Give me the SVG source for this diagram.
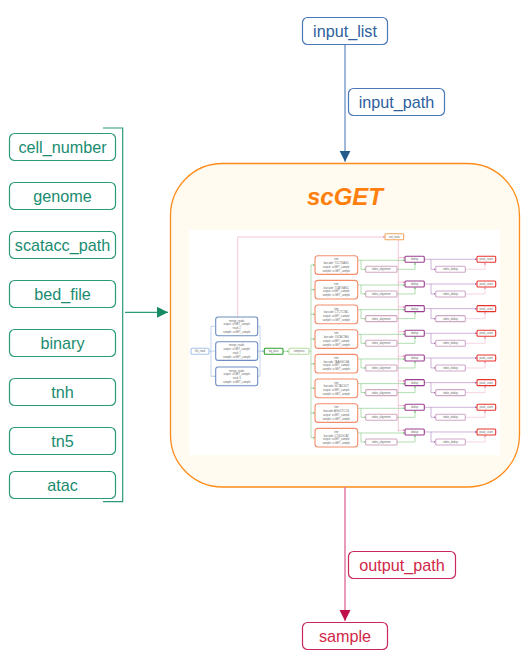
<svg xmlns="http://www.w3.org/2000/svg" width="529" height="657" viewBox="0 0 529 657">
<style>
.lbl{font-family:"Liberation Sans",Arial,sans-serif;font-size:16.2px;text-anchor:middle}
.g .box{fill:#fff;stroke:#2a9a7a;stroke-width:1.2}
.g text{fill:#1a8c70}
.b .box{fill:#fff;stroke:#4a78b8;stroke-width:1.2}
.b text{fill:#2e5f9e}
.r .box{fill:#fff;stroke:#c8285a;stroke-width:1.2}
.r text{fill:#d02848}
.t{font-family:"Liberation Sans",Arial,sans-serif;font-size:2.6px;text-anchor:middle;fill:#666}
.n{fill:#fff;stroke-width:1.1}
.c{fill:none;stroke-width:0.6}
</style>
<defs>
<marker id="ab" viewBox="0 0 10 10" refX="10" refY="5" markerWidth="11" markerHeight="16" markerUnits="userSpaceOnUse" orient="auto"><path d="M0,0L10,5L0,10z" fill="#235a8c"/></marker>
<marker id="ag" viewBox="0 0 10 10" refX="10" refY="5" markerWidth="17" markerHeight="11" markerUnits="userSpaceOnUse" orient="auto"><path d="M0,0L10,5L0,10z" fill="#178a66"/></marker>
<marker id="ar" viewBox="0 0 10 10" refX="10" refY="5" markerWidth="11" markerHeight="16" markerUnits="userSpaceOnUse" orient="auto"><path d="M0,0L10,5L0,10z" fill="#c0104a"/></marker>
<marker id="sg" viewBox="0 0 10 10" refX="10" refY="5" markerWidth="2.2" markerHeight="2.2" markerUnits="userSpaceOnUse" orient="auto"><path d="M0,0L10,5L0,10z" fill="#7cc87c"/></marker>
<marker id="sp" viewBox="0 0 10 10" refX="10" refY="5" markerWidth="2.2" markerHeight="2.2" markerUnits="userSpaceOnUse" orient="auto"><path d="M0,0L10,5L0,10z" fill="#e890b8"/></marker>
<marker id="su" viewBox="0 0 10 10" refX="10" refY="5" markerWidth="2.2" markerHeight="2.2" markerUnits="userSpaceOnUse" orient="auto"><path d="M0,0L10,5L0,10z" fill="#a060b0"/></marker>
<marker id="sb" viewBox="0 0 10 10" refX="10" refY="5" markerWidth="2.2" markerHeight="2.2" markerUnits="userSpaceOnUse" orient="auto"><path d="M0,0L10,5L0,10z" fill="#9ab8e0"/></marker>
</defs>

<g id="scGET">
<rect x="170.5" y="163.5" width="349" height="323.5" rx="52" fill="#fffbf0" stroke="#ff8c1a" stroke-width="1.3"/>
<text x="345" y="205" font-family="Liberation Sans,Arial,sans-serif" font-size="24" font-weight="bold" font-style="italic" fill="#ff7f0e" text-anchor="middle">scGET</text>
<rect x="189" y="230" width="311" height="225" fill="#fff"/>

<g id="inner-connectors">
<path class="c" stroke="#9ab8e0" d="M209,351.3H211M211,326.3V376.3" />
<path class="c" stroke="#9ab8e0" marker-end="url(#sb)" d="M211,326.3H215.7M211,351H215.7M211,376.3H215.7"/>
<path class="c" stroke="#9ab8e0" d="M257.7,326.3H260M257.7,351H260M257.7,376.3H260M260,326.3V376.3"/>
<path class="c" stroke="#9ab8e0" marker-end="url(#sb)" d="M260,351.3H264.3"/>
<path class="c" stroke="#7cc87c" marker-end="url(#sg)" d="M283,351.3H289"/>
<path class="c" stroke="#f0a0c0" marker-end="url(#sp)" d="M237.7,317V237H385"/>
<path class="c" stroke="#7cc87c" d="M309,351.3H311M311,265V437.7"/>
<path class="c" stroke="#f0a0c0" d="M398.3,239.7V432"/>
</g>

<g id="file_read"><rect class="n" x="191" y="348.3" width="18" height="6" rx="1" stroke="#a9c4eb"/><text class="t" x="200" y="352.3">file_read</text></g>
<g id="merge_reads_1"><rect class="n" x="215.7" y="317" width="42" height="18.7" rx="2.5" stroke="#6c8ebf"/><text class="t" x="236.7" y="321.5">merge_reads</text><text class="t" x="236.7" y="325.3">output: scGET_sample</text><text class="t" x="236.7" y="329.1">read: 2</text><text class="t" x="236.7" y="332.9">sample: scGET_sample</text></g>
<g id="merge_reads_2"><rect class="n" x="215.7" y="341.7" width="42" height="18.7" rx="2.5" stroke="#6c8ebf"/><text class="t" x="236.7" y="346.2">merge_reads</text><text class="t" x="236.7" y="350">output: scGET_sample</text><text class="t" x="236.7" y="353.8">read: 1</text><text class="t" x="236.7" y="357.6">sample: scGET_sample</text></g>
<g id="merge_reads_3"><rect class="n" x="215.7" y="367" width="42" height="18.7" rx="2.5" stroke="#6c8ebf"/><text class="t" x="236.7" y="371.5">merge_reads</text><text class="t" x="236.7" y="375.3">output: scGET_sample</text><text class="t" x="236.7" y="379.1">read: 3</text><text class="t" x="236.7" y="382.9">sample: scGET_sample</text></g>
<g id="log_dust"><rect class="n" x="264.3" y="348.3" width="18.7" height="6" rx="1" stroke="#2ca02c"/><text class="t" x="273.6" y="352.3">log_dust</text></g>
<g id="compress"><rect class="n" x="289" y="348.3" width="20" height="6" rx="1" stroke="#b5dca0"/><text class="t" x="299" y="352.3">compress</text></g>
<g id="unit_tools"><rect class="n" x="385" y="233.7" width="18.7" height="6" rx="1" stroke="#f4a460"/><text class="t" x="394.3" y="237.7">unit_tools</text></g>

<g id="row1" transform="translate(0,0)">
<path class="c" stroke="#7cc87c" marker-end="url(#sg)" d="M311,265H315"/>
<path class="c" stroke="#7cc87c" marker-end="url(#sg)" d="M357.7,260.3H405"/>
<path class="c" stroke="#7cc87c" marker-end="url(#sg)" d="M361,260.3V269.3H365.7"/>
<path class="c" stroke="#7cc87c" marker-end="url(#sg)" d="M397,269.3H415V262.3"/>
<path class="c" stroke="#f0a0c0" marker-end="url(#sp)" d="M398.3,257.6H405"/>
<path class="c" stroke="#b080c0" marker-end="url(#su)" d="M424.3,259.3H431V269.3H435.7"/>
<path class="c" stroke="#b080c0" marker-end="url(#su)" d="M431,259.3H477"/>
<path class="c" stroke="#f0b8d0" marker-end="url(#sp)" d="M465.3,269.3H485V262.3"/>
<rect class="n" x="315" y="255.7" width="42.7" height="18.7" rx="3" stroke="#f48c6c"/>
<text class="t" x="336.3" y="260.2">trim</text><text class="t" x="336.3" y="264">barcode: TCCTGAGC</text><text class="t" x="336.3" y="267.8">output: scGET_sample</text><text class="t" x="336.3" y="271.6">sample: scGET_sample</text>
<rect class="n" x="365.7" y="266.3" width="31.3" height="6" rx="1" stroke="#cfa8c0"/><text class="t" x="381.3" y="270.3">index_alignment</text>
<rect class="n" x="405" y="256.3" width="19.3" height="6" rx="1" stroke="#9b3d8f"/><text class="t" x="414.6" y="260.3">dedup</text>
<rect class="n" x="435.7" y="266.3" width="29.6" height="6" rx="1" stroke="#cfa8c8"/><text class="t" x="450.5" y="270.3">index_dedup</text>
<rect class="n" x="477" y="256.3" width="18.7" height="6" rx="1" stroke="#e8332a"/><text class="t" x="486.3" y="260.3">peak_count</text>
</g>
<g id="row2" transform="translate(0,24.67)">
<path class="c" stroke="#7cc87c" marker-end="url(#sg)" d="M311,265H315"/>
<path class="c" stroke="#7cc87c" marker-end="url(#sg)" d="M357.7,260.3H405"/>
<path class="c" stroke="#7cc87c" marker-end="url(#sg)" d="M361,260.3V269.3H365.7"/>
<path class="c" stroke="#7cc87c" marker-end="url(#sg)" d="M397,269.3H415V262.3"/>
<path class="c" stroke="#f0a0c0" marker-end="url(#sp)" d="M398.3,257.6H405"/>
<path class="c" stroke="#b080c0" marker-end="url(#su)" d="M424.3,259.3H431V269.3H435.7"/>
<path class="c" stroke="#b080c0" marker-end="url(#su)" d="M431,259.3H477"/>
<path class="c" stroke="#f0b8d0" marker-end="url(#sp)" d="M465.3,269.3H485V262.3"/>
<rect class="n" x="315" y="255.7" width="42.7" height="18.7" rx="3" stroke="#f48c6c"/>
<text class="t" x="336.3" y="260.2">trim</text><text class="t" x="336.3" y="264">barcode: TCATGAGC</text><text class="t" x="336.3" y="267.8">output: scGET_sample</text><text class="t" x="336.3" y="271.6">sample: scGET_sample</text>
<rect class="n" x="365.7" y="266.3" width="31.3" height="6" rx="1" stroke="#cfa8c0"/><text class="t" x="381.3" y="270.3">index_alignment</text>
<rect class="n" x="405" y="256.3" width="19.3" height="6" rx="1" stroke="#9b3d8f"/><text class="t" x="414.6" y="260.3">dedup</text>
<rect class="n" x="435.7" y="266.3" width="29.6" height="6" rx="1" stroke="#cfa8c8"/><text class="t" x="450.5" y="270.3">index_dedup</text>
<rect class="n" x="477" y="256.3" width="18.7" height="6" rx="1" stroke="#e8332a"/><text class="t" x="486.3" y="260.3">peak_count</text>
</g>
<g id="row3" transform="translate(0,49.33)">
<path class="c" stroke="#7cc87c" marker-end="url(#sg)" d="M311,265H315"/>
<path class="c" stroke="#7cc87c" marker-end="url(#sg)" d="M357.7,260.3H405"/>
<path class="c" stroke="#7cc87c" marker-end="url(#sg)" d="M361,260.3V269.3H365.7"/>
<path class="c" stroke="#7cc87c" marker-end="url(#sg)" d="M397,269.3H415V262.3"/>
<path class="c" stroke="#f0a0c0" marker-end="url(#sp)" d="M398.3,257.6H405"/>
<path class="c" stroke="#b080c0" marker-end="url(#su)" d="M424.3,259.3H431V269.3H435.7"/>
<path class="c" stroke="#b080c0" marker-end="url(#su)" d="M431,259.3H477"/>
<path class="c" stroke="#f0b8d0" marker-end="url(#sp)" d="M465.3,269.3H485V262.3"/>
<rect class="n" x="315" y="255.7" width="42.7" height="18.7" rx="3" stroke="#f48c6c"/>
<text class="t" x="336.3" y="260.2">trim</text><text class="t" x="336.3" y="264">barcode: CTCTCTAC</text><text class="t" x="336.3" y="267.8">output: scGET_sample</text><text class="t" x="336.3" y="271.6">sample: scGET_sample</text>
<rect class="n" x="365.7" y="266.3" width="31.3" height="6" rx="1" stroke="#cfa8c0"/><text class="t" x="381.3" y="270.3">index_alignment</text>
<rect class="n" x="405" y="256.3" width="19.3" height="6" rx="1" stroke="#9b3d8f"/><text class="t" x="414.6" y="260.3">dedup</text>
<rect class="n" x="435.7" y="266.3" width="29.6" height="6" rx="1" stroke="#cfa8c8"/><text class="t" x="450.5" y="270.3">index_dedup</text>
<rect class="n" x="477" y="256.3" width="18.7" height="6" rx="1" stroke="#e8332a"/><text class="t" x="486.3" y="260.3">peak_count</text>
</g>
<g id="row4" transform="translate(0,74)">
<path class="c" stroke="#7cc87c" marker-end="url(#sg)" d="M311,265H315"/>
<path class="c" stroke="#7cc87c" marker-end="url(#sg)" d="M357.7,260.3H405"/>
<path class="c" stroke="#7cc87c" marker-end="url(#sg)" d="M361,260.3V269.3H365.7"/>
<path class="c" stroke="#7cc87c" marker-end="url(#sg)" d="M397,269.3H415V262.3"/>
<path class="c" stroke="#f0a0c0" marker-end="url(#sp)" d="M398.3,257.6H405"/>
<path class="c" stroke="#b080c0" marker-end="url(#su)" d="M424.3,259.3H431V269.3H435.7"/>
<path class="c" stroke="#b080c0" marker-end="url(#su)" d="M431,259.3H477"/>
<path class="c" stroke="#f0b8d0" marker-end="url(#sp)" d="M465.3,269.3H485V262.3"/>
<rect class="n" x="315" y="255.7" width="42.7" height="18.7" rx="3" stroke="#f48c6c"/>
<text class="t" x="336.3" y="260.2">trim</text><text class="t" x="336.3" y="264">barcode: CGTACTAG</text><text class="t" x="336.3" y="267.8">output: scGET_sample</text><text class="t" x="336.3" y="271.6">sample: scGET_sample</text>
<rect class="n" x="365.7" y="266.3" width="31.3" height="6" rx="1" stroke="#cfa8c0"/><text class="t" x="381.3" y="270.3">index_alignment</text>
<rect class="n" x="405" y="256.3" width="19.3" height="6" rx="1" stroke="#9b3d8f"/><text class="t" x="414.6" y="260.3">dedup</text>
<rect class="n" x="435.7" y="266.3" width="29.6" height="6" rx="1" stroke="#cfa8c8"/><text class="t" x="450.5" y="270.3">index_dedup</text>
<rect class="n" x="477" y="256.3" width="18.7" height="6" rx="1" stroke="#e8332a"/><text class="t" x="486.3" y="260.3">peak_count</text>
</g>
<g id="row5" transform="translate(0,98.67)">
<path class="c" stroke="#7cc87c" marker-end="url(#sg)" d="M311,265H315"/>
<path class="c" stroke="#7cc87c" marker-end="url(#sg)" d="M357.7,260.3H405"/>
<path class="c" stroke="#7cc87c" marker-end="url(#sg)" d="M361,260.3V269.3H365.7"/>
<path class="c" stroke="#7cc87c" marker-end="url(#sg)" d="M397,269.3H415V262.3"/>
<path class="c" stroke="#f0a0c0" marker-end="url(#sp)" d="M398.3,257.6H405"/>
<path class="c" stroke="#b080c0" marker-end="url(#su)" d="M424.3,259.3H431V269.3H435.7"/>
<path class="c" stroke="#b080c0" marker-end="url(#su)" d="M431,259.3H477"/>
<path class="c" stroke="#f0b8d0" marker-end="url(#sp)" d="M465.3,269.3H485V262.3"/>
<rect class="n" x="315" y="255.7" width="42.7" height="18.7" rx="3" stroke="#f48c6c"/>
<text class="t" x="336.3" y="260.2">trim</text><text class="t" x="336.3" y="264">barcode: TAAGGCGA</text><text class="t" x="336.3" y="267.8">output: scGET_sample</text><text class="t" x="336.3" y="271.6">sample: scGET_sample</text>
<rect class="n" x="365.7" y="266.3" width="31.3" height="6" rx="1" stroke="#cfa8c0"/><text class="t" x="381.3" y="270.3">index_alignment</text>
<rect class="n" x="405" y="256.3" width="19.3" height="6" rx="1" stroke="#9b3d8f"/><text class="t" x="414.6" y="260.3">dedup</text>
<rect class="n" x="435.7" y="266.3" width="29.6" height="6" rx="1" stroke="#cfa8c8"/><text class="t" x="450.5" y="270.3">index_dedup</text>
<rect class="n" x="477" y="256.3" width="18.7" height="6" rx="1" stroke="#e8332a"/><text class="t" x="486.3" y="260.3">peak_count</text>
</g>
<g id="row6" transform="translate(0,123.33)">
<path class="c" stroke="#7cc87c" marker-end="url(#sg)" d="M311,265H315"/>
<path class="c" stroke="#7cc87c" marker-end="url(#sg)" d="M357.7,260.3H405"/>
<path class="c" stroke="#7cc87c" marker-end="url(#sg)" d="M361,260.3V269.3H365.7"/>
<path class="c" stroke="#7cc87c" marker-end="url(#sg)" d="M397,269.3H415V262.3"/>
<path class="c" stroke="#f0a0c0" marker-end="url(#sp)" d="M398.3,257.6H405"/>
<path class="c" stroke="#b080c0" marker-end="url(#su)" d="M424.3,259.3H431V269.3H435.7"/>
<path class="c" stroke="#b080c0" marker-end="url(#su)" d="M431,259.3H477"/>
<path class="c" stroke="#f0b8d0" marker-end="url(#sp)" d="M465.3,269.3H485V262.3"/>
<rect class="n" x="315" y="255.7" width="42.7" height="18.7" rx="3" stroke="#f48c6c"/>
<text class="t" x="336.3" y="260.2">trim</text><text class="t" x="336.3" y="264">barcode: GCTACGCT</text><text class="t" x="336.3" y="267.8">output: scGET_sample</text><text class="t" x="336.3" y="271.6">sample: scGET_sample</text>
<rect class="n" x="365.7" y="266.3" width="31.3" height="6" rx="1" stroke="#cfa8c0"/><text class="t" x="381.3" y="270.3">index_alignment</text>
<rect class="n" x="405" y="256.3" width="19.3" height="6" rx="1" stroke="#9b3d8f"/><text class="t" x="414.6" y="260.3">dedup</text>
<rect class="n" x="435.7" y="266.3" width="29.6" height="6" rx="1" stroke="#cfa8c8"/><text class="t" x="450.5" y="270.3">index_dedup</text>
<rect class="n" x="477" y="256.3" width="18.7" height="6" rx="1" stroke="#e8332a"/><text class="t" x="486.3" y="260.3">peak_count</text>
</g>
<g id="row7" transform="translate(0,148)">
<path class="c" stroke="#7cc87c" marker-end="url(#sg)" d="M311,265H315"/>
<path class="c" stroke="#7cc87c" marker-end="url(#sg)" d="M357.7,260.3H405"/>
<path class="c" stroke="#7cc87c" marker-end="url(#sg)" d="M361,260.3V269.3H365.7"/>
<path class="c" stroke="#7cc87c" marker-end="url(#sg)" d="M397,269.3H415V262.3"/>
<path class="c" stroke="#f0a0c0" marker-end="url(#sp)" d="M398.3,257.6H405"/>
<path class="c" stroke="#b080c0" marker-end="url(#su)" d="M424.3,259.3H431V269.3H435.7"/>
<path class="c" stroke="#b080c0" marker-end="url(#su)" d="M431,259.3H477"/>
<path class="c" stroke="#f0b8d0" marker-end="url(#sp)" d="M465.3,269.3H485V262.3"/>
<rect class="n" x="315" y="255.7" width="42.7" height="18.7" rx="3" stroke="#f48c6c"/>
<text class="t" x="336.3" y="260.2">trim</text><text class="t" x="336.3" y="264">barcode: AGGCTCCG</text><text class="t" x="336.3" y="267.8">output: scGET_sample</text><text class="t" x="336.3" y="271.6">sample: scGET_sample</text>
<rect class="n" x="365.7" y="266.3" width="31.3" height="6" rx="1" stroke="#cfa8c0"/><text class="t" x="381.3" y="270.3">index_alignment</text>
<rect class="n" x="405" y="256.3" width="19.3" height="6" rx="1" stroke="#9b3d8f"/><text class="t" x="414.6" y="260.3">dedup</text>
<rect class="n" x="435.7" y="266.3" width="29.6" height="6" rx="1" stroke="#cfa8c8"/><text class="t" x="450.5" y="270.3">index_dedup</text>
<rect class="n" x="477" y="256.3" width="18.7" height="6" rx="1" stroke="#e8332a"/><text class="t" x="486.3" y="260.3">peak_count</text>
</g>
<g id="row8" transform="translate(0,172.67)">
<path class="c" stroke="#7cc87c" marker-end="url(#sg)" d="M311,265H315"/>
<path class="c" stroke="#7cc87c" marker-end="url(#sg)" d="M357.7,260.3H405"/>
<path class="c" stroke="#7cc87c" marker-end="url(#sg)" d="M361,260.3V269.3H365.7"/>
<path class="c" stroke="#7cc87c" marker-end="url(#sg)" d="M397,269.3H415V262.3"/>
<path class="c" stroke="#f0a0c0" marker-end="url(#sp)" d="M398.3,257.6H405"/>
<path class="c" stroke="#b080c0" marker-end="url(#su)" d="M424.3,259.3H431V269.3H435.7"/>
<path class="c" stroke="#b080c0" marker-end="url(#su)" d="M431,259.3H477"/>
<path class="c" stroke="#f0b8d0" marker-end="url(#sp)" d="M465.3,269.3H485V262.3"/>
<rect class="n" x="315" y="255.7" width="42.7" height="18.7" rx="3" stroke="#f48c6c"/>
<text class="t" x="336.3" y="260.2">trim</text><text class="t" x="336.3" y="264">barcode: CTGCGCAT</text><text class="t" x="336.3" y="267.8">output: scGET_sample</text><text class="t" x="336.3" y="271.6">sample: scGET_sample</text>
<rect class="n" x="365.7" y="266.3" width="31.3" height="6" rx="1" stroke="#cfa8c0"/><text class="t" x="381.3" y="270.3">index_alignment</text>
<rect class="n" x="405" y="256.3" width="19.3" height="6" rx="1" stroke="#9b3d8f"/><text class="t" x="414.6" y="260.3">dedup</text>
<rect class="n" x="435.7" y="266.3" width="29.6" height="6" rx="1" stroke="#cfa8c8"/><text class="t" x="450.5" y="270.3">index_dedup</text>
<rect class="n" x="477" y="256.3" width="18.7" height="6" rx="1" stroke="#e8332a"/><text class="t" x="486.3" y="260.3">peak_count</text>
</g>
</g>

<g id="connectors">
<path d="M345,44.3V161.7" stroke="#7fa0cc" stroke-width="1.5" fill="none" marker-end="url(#ab)"/>
<path d="M103,128H122.7V501.7H103" stroke="#2a9a7a" stroke-width="1.2" fill="none"/>
<path d="M125,312.3H168" stroke="#2a9a7a" stroke-width="1.3" fill="none" marker-end="url(#ag)"/>
<path d="M345,487V621" stroke="#e07aa0" stroke-width="1.5" fill="none" marker-end="url(#ar)"/>
</g>

<g id="input_list" class="b"><rect class="box" x="302.5" y="17.5" width="85" height="27" rx="5"/><text class="lbl" x="345" y="36.7">input_list</text></g>
<g id="input_path" class="b"><rect class="box" x="348.5" y="88.5" width="96" height="27" rx="5"/><text class="lbl" x="396.5" y="107.7">input_path</text></g>
<g id="output_path" class="r"><rect class="box" x="348.5" y="551.5" width="107" height="27" rx="5"/><text class="lbl" x="402" y="570.7">output_path</text></g>
<g id="sample" class="r"><rect class="box" x="302.5" y="622.5" width="85" height="27" rx="5"/><text class="lbl" x="345" y="641.7">sample</text></g>

<g id="cell_number" class="g"><rect class="box" x="9.5" y="133.5" width="106" height="27" rx="5"/><text class="lbl" x="62.5" y="152.7">cell_number</text></g>
<g id="genome" class="g"><rect class="box" x="9.5" y="182.5" width="106" height="27" rx="5"/><text class="lbl" x="62.5" y="201.7">genome</text></g>
<g id="scatacc_path" class="g"><rect class="box" x="9.5" y="231.5" width="106" height="27" rx="5"/><text class="lbl" x="62.5" y="250.7">scatacc_path</text></g>
<g id="bed_file" class="g"><rect class="box" x="9.5" y="280.5" width="106" height="27" rx="5"/><text class="lbl" x="62.5" y="299.7">bed_file</text></g>
<g id="binary" class="g"><rect class="box" x="9.5" y="329.5" width="106" height="27" rx="5"/><text class="lbl" x="62.5" y="348.7">binary</text></g>
<g id="tnh" class="g"><rect class="box" x="9.5" y="378.5" width="106" height="27" rx="5"/><text class="lbl" x="62.5" y="397.7">tnh</text></g>
<g id="tn5" class="g"><rect class="box" x="9.5" y="427.5" width="106" height="27" rx="5"/><text class="lbl" x="62.5" y="446.7">tn5</text></g>
<g id="atac" class="g"><rect class="box" x="9.5" y="471.5" width="106" height="27" rx="5"/><text class="lbl" x="62.5" y="490.7">atac</text></g>
</svg>
